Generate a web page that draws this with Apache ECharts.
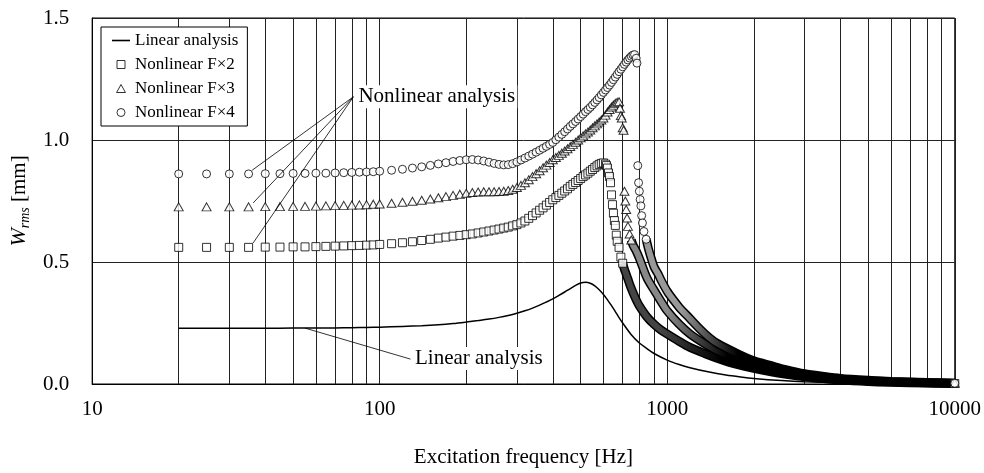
<!DOCTYPE html>
<html>
<head>
<meta charset="utf-8">
<script src="https://cdn.jsdelivr.net/npm/echarts@6.0.0/dist/echarts.min.js"></script>
<style>
  html, body { margin: 0; padding: 0; background: #fff; }
  #chart { width: 984px; height: 473px; }
</style>
</head>
<body>
<div id="chart"></div>
<script>
// frequencies [Hz] shared by the rising part of the nonlinear curves
var freqRise = [20, 25, 30, 35, 40, 45, 50, 55, 60, 65, 70, 75, 80, 85, 90, 95,
  100, 110, 120, 130, 140, 150, 160, 170, 180, 190,
  200, 210, 220, 230, 240, 250, 260, 270, 280, 290,
  300, 310, 320, 330, 340, 350, 360, 370, 380, 390,
  400, 410, 420, 430, 440, 450, 460, 470, 480, 490,
  500, 510, 520, 530, 540, 550, 560, 570, 580, 590,
  600, 610, 620, 630, 640, 650, 660, 670, 680, 690,
  700, 710, 720, 730, 740, 750, 760, 770, 780]

// Nonlinear F×2 (squares)
var rise2 = [0.560, 0.560, 0.560, 0.560, 0.561, 0.561, 0.562, 0.562, 0.563, 0.564, 0.565, 0.566, 0.567, 0.568, 0.569, 0.570,
  0.572, 0.575, 0.579, 0.583, 0.588, 0.593, 0.598, 0.602, 0.606, 0.609,
  0.612, 0.615, 0.619, 0.623, 0.627, 0.631, 0.635, 0.639, 0.643, 0.648,
  0.653, 0.660, 0.668, 0.679, 0.690, 0.701, 0.712, 0.722, 0.733, 0.744,
  0.755, 0.764, 0.773, 0.782, 0.791, 0.800, 0.810, 0.818, 0.826, 0.834,
  0.842, 0.850, 0.857, 0.864, 0.872, 0.879, 0.887, 0.894, 0.900, 0.904,
  0.906, 0.901]
var freqFall2 = [615, 620, 625, 630, 635, 640, 645, 650, 655, 660, 665, 670, 680, 690, 700, 710, 720, 730, 745, 760, 780, 800,
  850, 900, 950, 1000, 1100, 1200, 1350, 1500, 1750, 2000, 2300, 2600, 3000, 3500, 4000, 5000, 6000, 8000, 10000]
var fall2 = [0.895, 0.885, 0.865, 0.850, 0.825, 0.775, 0.735, 0.700, 0.670, 0.650, 0.610, 0.585, 0.560, 0.520, 0.495, 0.470, 0.450, 0.430, 0.400, 0.375, 0.345, 0.320,
  0.275, 0.245, 0.222, 0.205, 0.175, 0.150, 0.125, 0.105, 0.080, 0.064, 0.050, 0.040, 0.030, 0.022, 0.016, 0.010, 0.007, 0.004, 0.002]

// Nonlinear F×3 (triangles)
var rise3 = [0.726, 0.726, 0.726, 0.726, 0.727, 0.727, 0.728, 0.728, 0.729, 0.730, 0.731, 0.732, 0.733, 0.734, 0.735, 0.737,
  0.738, 0.741, 0.745, 0.749, 0.753, 0.758, 0.763, 0.768, 0.773, 0.778,
  0.782, 0.785, 0.787, 0.788, 0.788, 0.788, 0.789, 0.790, 0.793, 0.798,
  0.805, 0.814, 0.825, 0.837, 0.850, 0.862, 0.874, 0.886, 0.897, 0.908,
  0.919, 0.928, 0.937, 0.946, 0.955, 0.964, 0.973, 0.982, 0.991, 1.000,
  1.009, 1.017, 1.025, 1.033, 1.041, 1.050, 1.058, 1.066, 1.074, 1.082,
  1.090, 1.102, 1.115, 1.125, 1.135, 1.143, 1.150, 1.155, 1.157]
var freqFall3 = [685, 690, 695, 700, 705, 710, 715, 720, 725, 730, 740, 750, 760, 780, 800, 850, 900, 950, 1000,
  1100, 1200, 1350, 1500, 1750, 2000, 2300, 2600, 3000, 3500, 4000, 5000, 6000, 8000, 10000]
var fall3 = [1.130, 1.100, 1.090, 1.050, 1.040, 0.790, 0.750, 0.715, 0.680, 0.646, 0.615, 0.590, 0.570, 0.545, 0.515, 0.435, 0.385, 0.340, 0.300,
  0.245, 0.205, 0.165, 0.135, 0.105, 0.082, 0.065, 0.052, 0.038, 0.028, 0.020, 0.013, 0.009, 0.005, 0.003]

// Nonlinear F×4 (circles)
var rise4 = [0.861, 0.861, 0.861, 0.861, 0.862, 0.862, 0.863, 0.863, 0.864, 0.864, 0.865, 0.866, 0.867, 0.868, 0.869, 0.870,
  0.872, 0.876, 0.880, 0.885, 0.890, 0.896, 0.902, 0.907, 0.912, 0.916,
  0.919, 0.920, 0.918, 0.914, 0.909, 0.904, 0.900, 0.898, 0.899, 0.903,
  0.910, 0.918, 0.926, 0.934, 0.942, 0.950, 0.958, 0.966, 0.974, 0.982,
  0.990, 1.001, 1.012, 1.023, 1.034, 1.045, 1.056, 1.066, 1.076, 1.086,
  1.096, 1.106, 1.116, 1.125, 1.134, 1.144, 1.154, 1.164, 1.174, 1.185,
  1.195, 1.205, 1.215, 1.225, 1.236, 1.247, 1.258, 1.269, 1.280, 1.290,
  1.300, 1.310, 1.319, 1.328, 1.336, 1.343, 1.348, 1.350, 1.335]
var freqFall4 = [785, 790, 795, 800, 805, 810, 815, 820, 830, 845, 860, 880, 900, 930, 960, 1000, 1050, 1100, 1200, 1300,
  1400, 1500, 1750, 2000, 2300, 2600, 3000, 3500, 4000, 5000, 6000, 8000, 10000]
var fall4 = [1.315, 0.895, 0.825, 0.790, 0.756, 0.730, 0.690, 0.660, 0.625, 0.593, 0.555, 0.515, 0.480, 0.450, 0.417, 0.380, 0.345, 0.315, 0.268, 0.225,
  0.190, 0.165, 0.125, 0.095, 0.075, 0.058, 0.042, 0.031, 0.023, 0.015, 0.010, 0.006, 0.003]

// Linear analysis
var freqLin = [20, 30, 40, 50, 60, 70, 80, 90, 100, 120, 140, 160, 180, 200, 220, 240, 260, 280, 300,
  320, 340, 360, 380, 400, 420, 440, 460, 480, 500, 520, 540, 560, 580, 600, 620, 640, 660, 680, 700,
  750, 800, 850, 900, 1000, 1100, 1200, 1400, 1600, 1800, 2000, 2500, 3000, 4000, 5000, 6000, 8000, 10000]
var wLin = [0.228, 0.228, 0.228, 0.229, 0.229, 0.230, 0.231, 0.232, 0.233, 0.236, 0.239, 0.243, 0.248, 0.254, 0.260, 0.266, 0.273, 0.281, 0.290,
  0.300, 0.311, 0.323, 0.336, 0.349, 0.363, 0.377, 0.391, 0.404, 0.414, 0.417, 0.413, 0.402, 0.386, 0.367, 0.345, 0.321, 0.297, 0.272, 0.250,
  0.202, 0.168, 0.145, 0.125, 0.098, 0.080, 0.067, 0.049, 0.037, 0.029, 0.023, 0.014, 0.009, 0.005, 0.003, 0.002, 0.001, 0.001]

// minor vertical grid lines (decades come from the axis)
var gridFreqs = [20, 30, 40, 50, 60, 70, 80, 90, 200, 300, 400, 500, 600, 700, 800, 900,
  2000, 3000, 4000, 5000, 6000, 7000, 8000, 9000]

// where the separate markers merge into a dense band [Hz]
var bandFrom2 = 700
var bandFrom3 = 750
var bandFrom4 = 845

var legendNames = ['Linear analysis', 'Nonlinear F×2', 'Nonlinear F×3', 'Nonlinear F×4']

var SERIF = '"Liberation Serif", "Times New Roman", serif'

function pairs(fs, ws) {
  return ws.map(function(w, i) { return [fs[i], w] })
}

function nonlinear(rise, ff, fall) {
  return pairs(freqRise, rise).concat(pairs(ff, fall))
}

var all2 = nonlinear(rise2, freqFall2, fall2)
var all3 = nonlinear(rise3, freqFall3, fall3)
var all4 = nonlinear(rise4, freqFall4, fall4)

// markers where they are still separable, the dense tail is drawn as a band
function markPart(d, from) {
  return d.filter(function(p) { return p[0] <= from || p[0] === 10000 })
}
function bandPart(d, from) {
  return d.filter(function(p) { return p[0] >= from })
}

var chart = echarts.init(document.getElementById('chart'))

var markStyle = { color: '#fff', borderColor: '#000', borderWidth: 1 }

function bandSeries(name, data, inner) {
  var shade = new echarts.graphic.LinearGradient(0, 0, 1, 0, [
    { offset: 0, color: inner },
    { offset: 0.12, color: inner },
    { offset: 0.3, color: '#000' },
    { offset: 1, color: '#000' }
  ])
  return [{
    name: name,
    type: 'line',
    data: data,
    showSymbol: false,
    smooth: 0.3,
    clip: false,
    silent: true,
    lineStyle: { color: '#000', width: 9 },
    z: 2
  }, {
    name: name + ' in',
    type: 'line',
    data: data,
    showSymbol: false,
    smooth: 0.3,
    clip: false,
    silent: true,
    lineStyle: { color: shade, width: 6 },
    z: 2
  }]
}

function markSeries(name, data, symbol, size) {
  return {
    name: name,
    type: 'scatter',
    data: data,
    symbol: symbol,
    symbolSize: size,
    clip: false,
    itemStyle: markStyle,
    z: 2
  }
}

var series = [
  {
    name: 'grid',
    type: 'lines',
    coordinateSystem: 'cartesian2d',
    silent: true,
    z: 1,
    lineStyle: { color: '#222', width: 1, opacity: 1 },
    data: gridFreqs.map(function(f) { return { coords: [[f, 0], [f, 1.5]] } })
  },
  {
    name: legendNames[0],
    type: 'line',
    data: pairs(freqLin, wLin),
    showSymbol: false,
    smooth: 0.3,
    clip: false,
    lineStyle: { color: '#000', width: 1.5 },
    itemStyle: { color: '#000' },
    z: 2,
    markPoint: {
      symbol: 'rect',
      symbolSize: 1,
      itemStyle: { color: 'rgba(0,0,0,0)' },
      label: {
        show: true,
        position: 'right',
        distance: 1,
        fontFamily: SERIF,
        fontSize: 21,
        color: '#000',
        backgroundColor: '#fff',
        padding: [1, 2, 1, 2]
      },
      data: [
        { coord: [129, 0.104], label: { formatter: 'Linear analysis' } },
        { coord: [82, 1.177], label: { formatter: 'Nonlinear analysis' } }
      ]
    }
  }
]
series = series
  .concat(bandSeries('band F×2', bandPart(all2, bandFrom2), '#444'))
  .concat([markSeries(legendNames[1], markPart(all2, bandFrom2), 'rect', 8)])
  .concat(bandSeries('band F×3', bandPart(all3, bandFrom3), '#888'))
  .concat([markSeries(legendNames[2], markPart(all3, bandFrom3), 'triangle', [9, 8])])
  .concat(bandSeries('band F×4', bandPart(all4, bandFrom4), '#999'))
  .concat([markSeries(legendNames[3], markPart(all4, bandFrom4), 'circle', 8)])
  .concat([{
    name: 'leaders',
    type: 'lines',
    coordinateSystem: 'cartesian2d',
    silent: true,
    z: 3,
    lineStyle: { color: '#000', width: 0.8, opacity: 1 },
    data: [
      { coords: [[55, 0.229], [128, 0.102]] },
      { coords: [[81, 1.177], [36, 0.876]] },
      { coords: [[81, 1.177], [36.3, 0.742]] },
      { coords: [[81, 1.177], [36.3, 0.578]] }
    ]
  }])

var option = {
  animation: false,
  backgroundColor: '#fff',
  grid: {
    left: 90,
    right: 27,
    top: 18,
    bottom: 88,
    show: true,
    borderColor: '#000',
    borderWidth: 1
  },
  legend: {
    orient: 'vertical',
    left: 101,
    top: 27,
    padding: [5, 9, 5, 11],
    itemGap: 7,
    itemWidth: 18,
    itemHeight: 8,
    selectedMode: false,
    backgroundColor: '#fff',
    borderColor: '#000',
    borderWidth: 1,
    textStyle: { fontFamily: SERIF, fontSize: 17, color: '#000' },
    data: [
      { name: legendNames[0], icon: 'path://M0,0h18v1.6h-18z', itemStyle: { color: '#000', borderWidth: 0 } },
      { name: legendNames[1], icon: 'path://M0,0h10v10h-10z', itemStyle: markStyle },
      { name: legendNames[2], icon: 'path://M5,0L10,9H0z', itemStyle: markStyle },
      { name: legendNames[3], icon: 'path://M0,5a5,5 0 1,0 10,0a5,5 0 1,0 -10,0z', itemStyle: markStyle }
    ]
  },
  xAxis: {
    type: 'log',
    logBase: 10,
    min: 10,
    max: 10000,
    axisLine: { show: true, lineStyle: { color: '#000', width: 1 } },
    axisTick: { show: false },
    axisLabel: {
      fontFamily: SERIF,
      fontSize: 21,
      color: '#000',
      margin: 15,
      formatter: function(v) { return String(Math.round(v)) }
    },
    splitLine: { show: true, lineStyle: { color: '#222', width: 1 } },
    name: 'Excitation frequency [Hz]',
    nameLocation: 'middle',
    nameGap: 63,
    nameTextStyle: { fontFamily: SERIF, fontSize: 21, color: '#000' }
  },
  yAxis: {
    type: 'value',
    min: 0,
    max: 1.5,
    interval: 0.5,
    axisLine: { show: true, lineStyle: { color: '#000', width: 1 } },
    axisTick: { show: false },
    axisLabel: {
      fontFamily: SERIF,
      fontSize: 21,
      color: '#000',
      margin: 23,
      formatter: function(v) { return v.toFixed(1) }
    },
    splitLine: { show: true, lineStyle: { color: '#222', width: 1 } },
    name: '{i|W}{s|rms} [mm]',
    nameLocation: 'middle',
    nameRotate: 90,
    nameGap: 50,
    nameTextStyle: {
      fontFamily: SERIF,
      fontSize: 21,
      color: '#000',
      rich: {
        i: { fontFamily: SERIF, fontSize: 22, fontStyle: 'italic', color: '#000' },
        s: { fontFamily: SERIF, fontSize: 14, fontStyle: 'italic', color: '#000', verticalAlign: 'bottom', padding: [12, 0, 0, 0] }
      }
    }
  },
  series: series
}

chart.setOption(option)
window.addEventListener('resize', function() {
  chart.resize()
})
</script>
</body>
</html>
